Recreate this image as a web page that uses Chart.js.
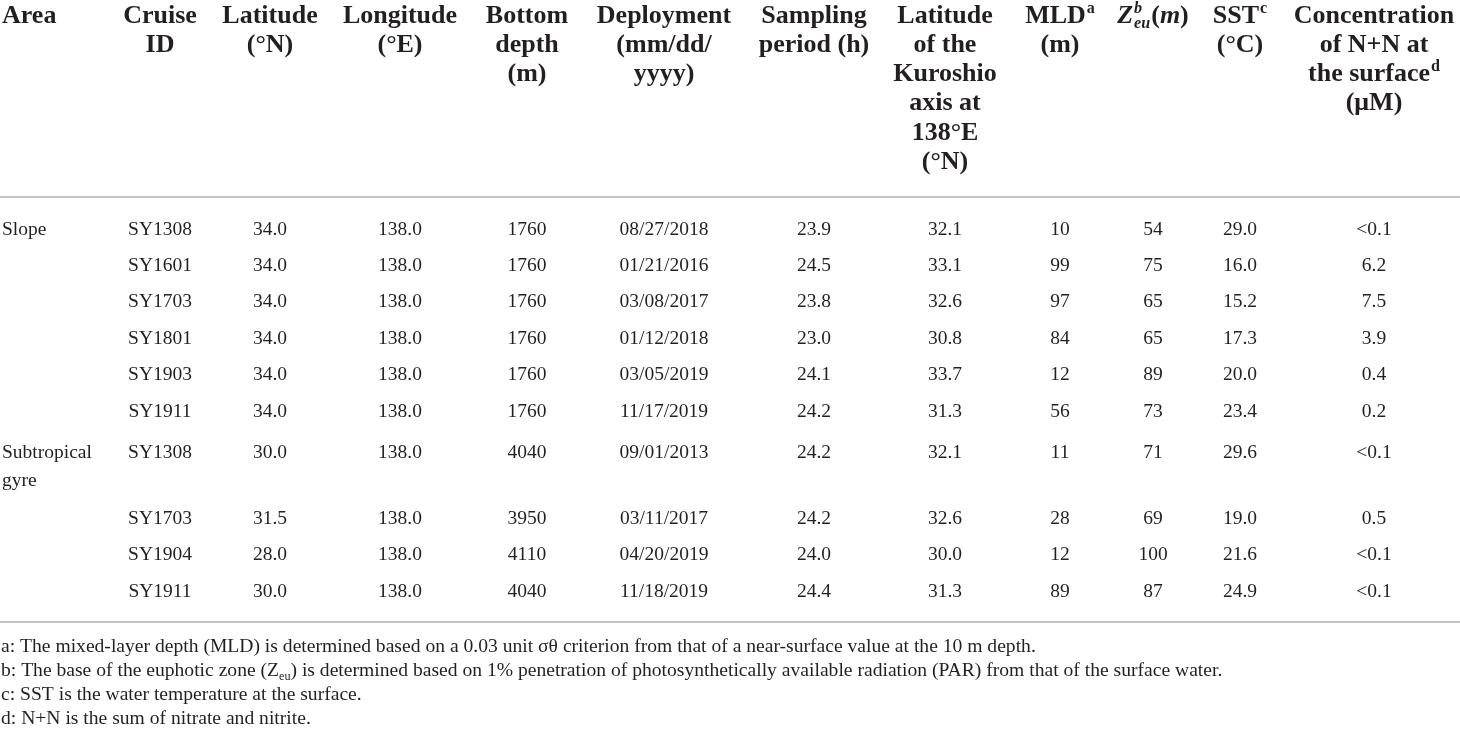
<!DOCTYPE html>
<html>
<head>
<meta charset="utf-8">
<script src="https://cdn.jsdelivr.net/npm/chart.js@4.4.1/dist/chart.umd.min.js"></script>
<style>
html, body { margin: 0; padding: 0; background: #fff; }
#wrap { width: 1460px; height: 730px; position: relative; }
</style>
</head>
<body>
<div id="wrap"><canvas id="tbl"></canvas></div>
<script>
// ---- table content ----
var areaNames = ['Slope', 'Subtropical gyre'];
var areaFirstRow = [0, 6];
var cruiseIds = ['SY1308', 'SY1601', 'SY1703', 'SY1801', 'SY1903', 'SY1911', 'SY1308', 'SY1703', 'SY1904', 'SY1911'];
var latitude = [34.0, 34.0, 34.0, 34.0, 34.0, 34.0, 30.0, 31.5, 28.0, 30.0];
var longitude = [138.0, 138.0, 138.0, 138.0, 138.0, 138.0, 138.0, 138.0, 138.0, 138.0];
var bottomDepth = [1760, 1760, 1760, 1760, 1760, 1760, 4040, 3950, 4110, 4040];
var deployment = ['08/27/2018', '01/21/2016', '03/08/2017', '01/12/2018', '03/05/2019', '11/17/2019', '09/01/2013', '03/11/2017', '04/20/2019', '11/18/2019'];
var samplingPeriod = [23.9, 24.5, 23.8, 23.0, 24.1, 24.2, 24.2, 24.2, 24.0, 24.4];
var kuroshioLat = [32.1, 33.1, 32.6, 30.8, 33.7, 31.3, 32.1, 32.6, 30.0, 31.3];
var mld = [10, 99, 97, 84, 12, 56, 11, 28, 12, 89];
var zeu = [54, 75, 65, 65, 89, 73, 71, 69, 100, 87];
var sst = [29.0, 16.0, 15.2, 17.3, 20.0, 23.4, 29.6, 19.0, 21.6, 24.9];
var nnSurface = ['<0.1', '6.2', '7.5', '3.9', '0.4', '0.2', '<0.1', '0.5', '<0.1', '<0.1'];

// header lines (^{} superscript, _{} subscript, *..* italic)
var headers = [
    ['Area'],
    ['Cruise', 'ID'],
    ['Latitude', '(°N)'],
    ['Longitude', '(°E)'],
    ['Bottom', 'depth', '(m)'],
    ['Deployment', '(mm/dd/', 'yyyy)'],
    ['Sampling', 'period (h)'],
    ['Latitude', 'of the', 'Kuroshio', 'axis at', '138°E', '(°N)'],
    ['MLD^{a}', '(m)'],
    ['*Z*_{*eu*}^{*b*}(*m*)'],
    ['SST^{c}', '(°C)'],
    ['Concentration', 'of N+N at', 'the surface^{d}', '(μM)']
];

var footnotes = [
    'a: The mixed-layer depth (MLD) is determined based on a 0.03 unit σθ criterion from that of a near-surface value at the 10 m depth.',
    'b: The base of the euphotic zone (Z_{eu}) is determined based on 1% penetration of photosynthetically available radiation (PAR) from that of the surface water.',
    'c: SST is the water temperature at the surface.',
    'd: N+N is the sum of nitrate and nitrite.'
];

// ---- layout ----
var W = 1460, H = 730;
var colX = [2, 160, 270, 400, 527, 664, 814, 945, 1060, 1153, 1240, 1374];
var rowY = [229, 265, 301, 338, 374, 411, 452, 518, 554, 591];
var headTop = 14, headStep = 29.3, wrapStep = 28;
var footY = [646, 670, 694, 718];
var ruleY = [197, 622];
var FONT = '"Liberation Serif", "Times New Roman", serif';
var INK = '#231f20';
var headStyle = { size: 26, weight: 'bold' };
var bodyStyle = { size: 19.5, weight: 'normal' };
var footStyle = { size: 19.6, weight: 'normal' };

function fmt(v, d) { return typeof v === 'number' ? v.toFixed(d) : v; }

// turn markup into segments
function parseRich(s) {
    var segs = [], it = false, pos = 'base', buf = '';
    function push() { if (buf) segs.push({ t: buf, it: it, pos: pos }); buf = ''; }
    for (var i = 0; i < s.length; i++) {
        var ch = s[i];
        if (ch === '*') { push(); it = !it; }
        else if ((ch === '^' || ch === '_') && s[i + 1] === '{') { push(); pos = ch === '^' ? 'sup' : 'sub'; i++; }
        else if (ch === '}' && pos !== 'base') { push(); pos = 'base'; }
        else buf += ch;
    }
    push();
    return segs;
}

function segFont(seg, st) {
    var sz = seg.pos === 'base' ? st.size : st.size * 0.62;
    return (seg.it ? 'italic ' : '') + st.weight + ' ' + sz + 'px ' + FONT;
}

// lay out the segments; sub followed by sup are stacked
function layoutRich(ctx, s, st) {
    var segs = parseRich(s), x = 0, items = [];
    for (var i = 0; i < segs.length; i++) {
        var sg = segs[i];
        ctx.font = segFont(sg, st);
        var w = ctx.measureText(sg.t).width;
        if (sg.pos === 'sub' && segs[i + 1] && segs[i + 1].pos === 'sup') {
            var nx = segs[i + 1];
            ctx.font = segFont(nx, st);
            var w2 = ctx.measureText(nx.t).width;
            items.push({ seg: sg, x: x + 1 }, { seg: nx, x: x + 1 });
            x += Math.max(w, w2) + 2;
            i++;
        } else {
            items.push({ seg: sg, x: x + (sg.pos === 'sup' ? 1 : 0) });
            x += w + (sg.pos === 'sup' ? 1 : 0);
        }
    }
    return { items: items, width: x };
}

function drawRich(ctx, s, cx, cy, st, align) {
    var lay = layoutRich(ctx, s, st);
    var x0 = align === 'left' ? cx : cx - lay.width / 2;
    var base = cy + st.size * 0.33;
    ctx.textAlign = 'left';
    ctx.textBaseline = 'alphabetic';
    ctx.fillStyle = INK;
    lay.items.forEach(function (it) {
        var y = base;
        if (it.seg.pos === 'sup') y = base - st.size * 0.38;
        if (it.seg.pos === 'sub') y = base + st.size * 0.2;
        ctx.font = segFont(it.seg, st);
        ctx.fillText(it.seg.t, x0 + it.x, y);
    });
}

// word wrap for the area column
var measureCtx = document.createElement('canvas').getContext('2d');
function wrap(text, st, maxW) {
    measureCtx.font = st.weight + ' ' + st.size + 'px ' + FONT;
    var words = text.split(' '), lines = [], cur = '';
    words.forEach(function (w) {
        var t = cur ? cur + ' ' + w : w;
        if (cur && measureCtx.measureText(t).width > maxW) { lines.push(cur); cur = w; }
        else cur = t;
    });
    if (cur) lines.push(cur);
    return lines;
}

// ---- datasets ----
var bodyCols = [
    cruiseIds,
    latitude.map(function (v) { return fmt(v, 1); }),
    longitude.map(function (v) { return fmt(v, 1); }),
    bottomDepth.map(function (v) { return fmt(v, 0); }),
    deployment,
    samplingPeriod.map(function (v) { return fmt(v, 1); }),
    kuroshioLat.map(function (v) { return fmt(v, 1); }),
    mld.map(function (v) { return fmt(v, 0); }),
    zeu.map(function (v) { return fmt(v, 0); }),
    sst.map(function (v) { return fmt(v, 1); }),
    nnSurface
];

function textSet(points, st, align) {
    return {
        type: 'scatter', data: points, pointRadius: 0, pointHoverRadius: 0,
        cellStyle: st, cellAlign: align
    };
}

var datasets = [];

ruleY.forEach(function (y) {
    datasets.push({
        type: 'line', data: [{ x: 0, y: y }, { x: W, y: y }],
        borderColor: '#c4c4c4', borderWidth: 2, pointRadius: 0, fill: false
    });
});

// header
var headPts = [];
headers.forEach(function (lines, c) {
    lines.forEach(function (t, k) {
        headPts.push({ x: colX[c], y: headTop + k * headStep, txt: t, left: c === 0 });
    });
});
datasets.push(textSet(headPts, headStyle, 'mixed'));

// area column
var areaPts = [];
areaNames.forEach(function (name, a) {
    wrap(name, bodyStyle, 110).forEach(function (t, k) {
        areaPts.push({ x: colX[0], y: rowY[areaFirstRow[a]] + k * wrapStep, txt: t });
    });
});
datasets.push(textSet(areaPts, bodyStyle, 'left'));

// value columns
bodyCols.forEach(function (vals, c) {
    datasets.push(textSet(vals.map(function (v, r) {
        return { x: colX[c + 1], y: rowY[r], txt: v };
    }), bodyStyle, 'center'));
});

// footnotes
datasets.push(textSet(footnotes.map(function (t, k) {
    return { x: 1, y: footY[k], txt: t };
}), footStyle, 'left'));

var cellText = {
    id: 'cellText',
    afterDatasetsDraw: function (chart) {
        var ctx = chart.ctx;
        ctx.save();
        chart.data.datasets.forEach(function (ds, i) {
            if (!ds.cellStyle) return;
            var meta = chart.getDatasetMeta(i);
            meta.data.forEach(function (el, j) {
                var p = ds.data[j];
                var align = ds.cellAlign === 'mixed' ? (p.left ? 'left' : 'center') : ds.cellAlign;
                drawRich(ctx, p.txt, el.x, el.y, ds.cellStyle, align);
            });
        });
        ctx.restore();
    }
};

var ctx = document.getElementById('tbl').getContext('2d');
var myChart = new Chart(ctx, {
    type: 'scatter',
    data: { datasets: datasets },
    options: {
        responsive: true,
        maintainAspectRatio: false,
        animation: false,
        events: [],
        layout: { padding: 0 },
        plugins: { legend: { display: false }, tooltip: { enabled: false } },
        scales: {
            x: { type: 'linear', min: 0, max: W, display: false },
            y: { type: 'linear', min: 0, max: H, reverse: true, display: false }
        }
    },
    plugins: [cellText]
});
</script>
</body>
</html>
